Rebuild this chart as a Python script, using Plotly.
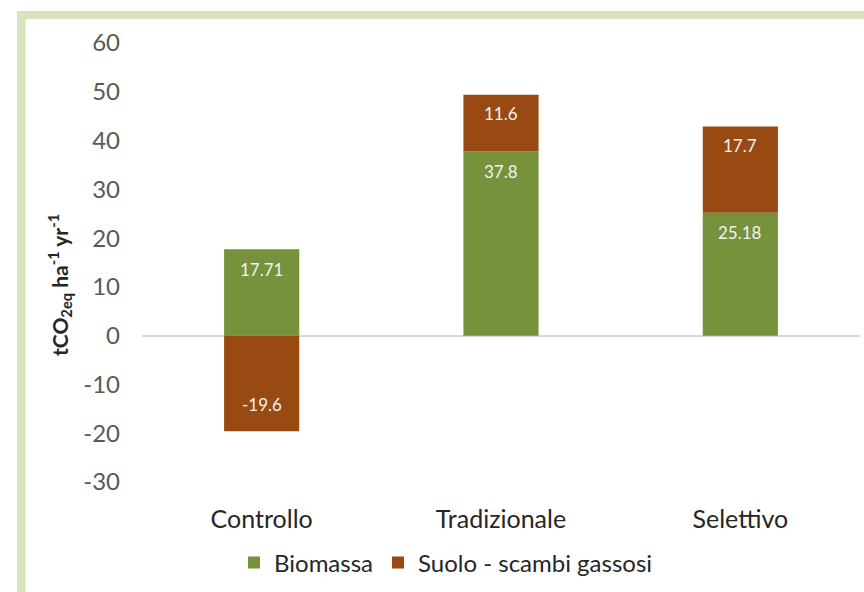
import plotly.graph_objects as go

categories = ["Controllo", "Tradizionale", "Selettivo"]
biomassa = [17.71, 37.8, 25.18]
suolo = [-19.6, 11.6, 17.7]
y_ticks = [60, 50, 40, 30, 20, 10, 0, -10, -20, -30]
y_tick_labels = ["60", "50", "40", "30", "20", "10", "0", "-10", "-20", "-30"]

GREEN = "#76923c"
BROWN = "#984a12"
FONT = "Lato"

fig = go.Figure()
fig.add_trace(go.Bar(
    name="Biomassa", x=categories, y=biomassa, marker_color=GREEN,
    marker_line_width=0, width=0.314, hoverinfo="y",
))
fig.add_trace(go.Bar(
    name="Suolo - scambi gassosi", x=categories, y=suolo, marker_color=BROWN,
    marker_line_width=0, width=0.314, hoverinfo="y",
))

# data labels, anchored at the end of each segment
label_font = dict(family=FONT, size=17, color="#f2f2f2")
for c, b, s in zip(categories, biomassa, suolo):
    fig.add_annotation(x=c, y=b, text=f"{b:g}", showarrow=False,
                       yanchor="middle", yshift=-20, font=label_font)
    if s >= 0:
        fig.add_annotation(x=c, y=b + s, text=f"{s:g}", showarrow=False,
                           yanchor="middle", yshift=-19, font=label_font)
    else:
        fig.add_annotation(x=c, y=s, text=f"{s:g}", showarrow=False,
                           yanchor="middle", yshift=27, font=label_font)

L, R, T, B = 142, 4, 43, 110
W, H = 864, 592
pw = W - L - R
ph = H - T - B

def px(x):
    return (x - L) / pw

def py(y):
    return (H - B - y) / ph

border = "#d7e4bd"
fig.add_shape(type="rect", xref="paper", yref="paper",
              x0=px(17), x1=px(25.5), y0=py(600), y1=py(11),
              fillcolor=border, line_width=0, layer="below")
fig.add_shape(type="rect", xref="paper", yref="paper",
              x0=px(17), x1=px(870), y0=py(19), y1=py(11),
              fillcolor=border, line_width=0, layer="below")

fig.add_annotation(
    xref="paper", yref="paper", x=px(59), y=py(285),
    xanchor="center", yanchor="middle",
    text="<b>tCO<sub>2eq</sub> ha<sup>-1</sup> yr<sup>-1</sup></b>",
    textangle=-90, showarrow=False,
    font=dict(family=FONT, size=21, color="#262626"),
)

fig.update_layout(
    width=W, height=H,
    margin=dict(l=L, r=R, t=T, b=B),
    barmode="relative",
    paper_bgcolor="white", plot_bgcolor="white",
    font=dict(family=FONT),
    showlegend=True,
    legend=dict(orientation="h", x=px(446), xanchor="center",
                y=py(563), yanchor="middle",
                font=dict(family=FONT, size=24, color="#262626"),
                itemwidth=30, traceorder="normal"),
    xaxis=dict(showgrid=False, showline=False, zeroline=False,
               range=[-0.5, 2.5], ticks="",
               ticklabelstandoff=20,
               tickfont=dict(family=FONT, size=25, color="#262626")),
    yaxis=dict(range=[-30, 60], tickvals=y_ticks, ticktext=y_tick_labels,
               showgrid=False, showline=False, zeroline=True,
               zerolinecolor="#d9d9d9", zerolinewidth=2, ticks="",
               ticklabelstandoff=21,
               tickfont=dict(family=FONT, size=24, color="#595959")),
)

fig.write_html("out.html", config={"displayModeBar": False},
               post_script="document.body.style.margin='0';")
